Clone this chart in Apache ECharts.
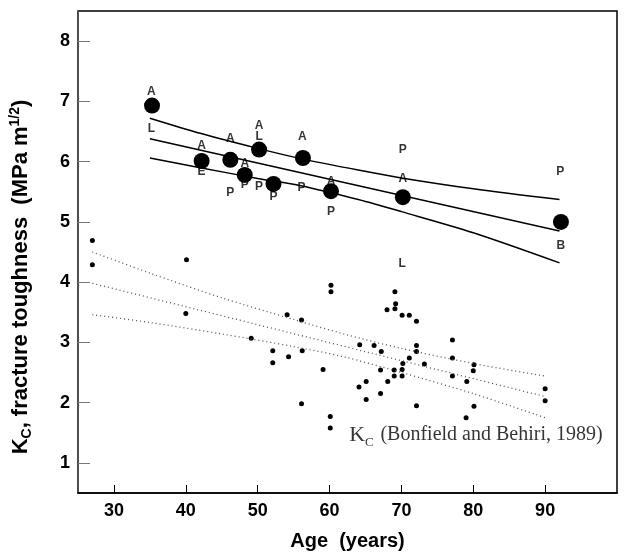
<!DOCTYPE html>
<html><head><meta charset="utf-8">
<script src="https://cdn.jsdelivr.net/npm/echarts@6/dist/echarts.min.js"></script>
<style>html,body{margin:0;padding:0;background:#fff}#c{width:625px;height:556px}</style>
</head><body><div id="c"></div>
<script>
// Big filled circles (mean values)
const bigAges = [35.3, 42.2, 46.2, 48.2, 50.2, 52.2, 56.3, 60.2, 70.2, 92.2];
const bigKc   = [6.93, 6.01, 6.03, 5.78, 6.20, 5.63, 6.06, 5.51, 5.41, 5.00];
// Letter markers
const letterAges = [35.2, 35.2, 42.2, 42.2, 46.2, 46.2, 48.2, 48.2, 50.2, 50.2, 50.2, 52.2, 56.1, 56.2, 60.2, 60.2, 70.2, 70.2, 70.1, 92.1, 92.2];
const letterKc   = [7.16, 6.54, 6.27, 5.83, 6.38, 5.48, 5.97, 5.61, 6.60, 6.41, 5.59, 5.42, 5.56, 6.41, 5.67, 5.17, 6.20, 5.71, 4.31, 5.83, 4.61];
const letterText = ['A','L','A','E','A','P','A','P','A','L','P','P','P','A','A','P','P','A','L','P','B'];
// Regression line (solid) and its confidence band
const solidAges  = [35, 92];
const solidMid   = [6.38, 4.85];
const bandAges   = [35, 42, 50, 56, 64, 70, 80, 92];
const bandUpper  = [6.72, 6.47, 6.22, 6.05, 5.86, 5.73, 5.55, 5.37];
const bandLower  = [6.06, 5.90, 5.72, 5.60, 5.37, 5.17, 4.82, 4.32];
// Bonfield and Behiri (1989) small dots
const smallAges = [27.0, 27.0, 40.1, 40.0, 49.1, 52.1, 52.1, 54.1, 54.3, 56.1, 56.2, 56.1, 59.1, 60.2, 60.2, 60.1, 60.1,
  64.2, 64.1, 65.1, 65.1, 66.2, 67.2, 67.1, 67.1, 68.0, 68.1, 69.1, 69.2, 69.1, 69.0, 69.0, 70.1, 70.1, 70.1, 70.2,
  71.1, 71.1, 72.1, 72.1, 72.1, 72.1, 73.2, 77.1, 77.1, 77.1, 79.1, 79.0, 80.1, 80.0, 80.1, 90.0, 90.0];
const smallKc   = [4.69, 4.29, 4.37, 3.48, 3.07, 2.86, 2.66, 3.46, 2.76, 3.37, 2.86, 1.98, 2.55, 3.95, 3.84, 1.77, 1.58,
  2.96, 2.26, 2.35, 2.05, 2.95, 2.85, 2.54, 2.15, 3.54, 2.35, 3.84, 3.64, 3.56, 2.54, 2.44, 3.45, 2.55, 2.44, 2.65,
  3.45, 2.74, 3.35, 2.95, 2.85, 1.95, 2.64, 3.04, 2.74, 2.44, 2.35, 1.75, 2.63, 2.53, 1.94, 2.23, 2.03];
// Dotted regression and band
const dotMidAges = [27, 90];
const dotMid     = [3.98, 2.10];
const dotAges    = [27, 35, 45, 55, 62, 70, 80, 90];
const dotUpper   = [4.50, 4.15, 3.74, 3.38, 3.14, 2.90, 2.65, 2.44];
const dotLower   = [3.46, 3.33, 3.14, 2.93, 2.76, 2.50, 2.15, 1.75];
// Axis ticks
const xTicks = [30, 40, 50, 60, 70, 80, 90];
const yTicks = [1, 2, 3, 4, 5, 6, 7, 8];
const noteAge = 62.6, noteKc = 1.46;

const zip = (a, b) => a.map((v, i) => [v, b[i]]);
const chart = echarts.init(document.getElementById('c'));
const solidStyle = {color: '#000', width: 1.5};
const dotStyle = {color: '#555', width: 1.3, type: [1, 3]};
chart.setOption({
  animation: false,
  grid: {left: 76, right: 8, top: 11, bottom: 56, show: true, borderColor: '#000', borderWidth: 1.5, backgroundColor: 'transparent'},
  xAxis: {
    type: 'value', min: 25, max: 100,
    name: 'Age  (years)', nameLocation: 'middle', nameGap: 38,
    nameTextStyle: {fontFamily: 'Liberation Sans', fontWeight: 'bold', fontSize: 20, color: '#000'},
    axisLine: {show: true, lineStyle: {color: '#000', width: 1.5}},
    axisTick: {show: true, inside: true, length: 8, customValues: xTicks, lineStyle: {color: '#000'}},
    axisLabel: {customValues: xTicks, fontFamily: 'Liberation Sans', fontWeight: 'bold', fontSize: 18, color: '#000', margin: 9},
    splitLine: {show: false}
  },
  yAxis: {
    type: 'value', min: 0.5, max: 8.5,
    name: 'K{sub|C}, fracture toughness  (MPa m{sup|1/2})', nameLocation: 'middle', nameGap: 44, nameRotate: 90,
    nameTextStyle: {fontFamily: 'Liberation Sans', fontWeight: 'bold', fontSize: 22, color: '#000', padding: [0, 50, 0, 0],
      rich: {sub: {fontSize: 14, fontWeight: 'bold', fontFamily: 'Liberation Sans', padding: [12, 0, 0, 0]},
             sup: {fontSize: 14, fontWeight: 'bold', fontFamily: 'Liberation Sans', padding: [0, 0, 12, 0]}}},
    axisLine: {show: true, lineStyle: {color: '#555', width: 1.5}},
    axisTick: {show: true, inside: true, length: 12, customValues: yTicks, lineStyle: {color: '#777'}},
    axisLabel: {customValues: yTicks, fontFamily: 'Liberation Sans', fontWeight: 'bold', fontSize: 18, color: '#000', margin: 8},
    splitLine: {show: false}
  },
  series: [
    {type: 'line', data: zip(solidAges, solidMid), symbol: 'none', lineStyle: solidStyle},
    {type: 'line', data: zip(bandAges, bandUpper), symbol: 'none', smooth: 0.3, lineStyle: solidStyle},
    {type: 'line', data: zip(bandAges, bandLower), symbol: 'none', smooth: 0.3, lineStyle: solidStyle},
    {type: 'line', data: zip(dotMidAges, dotMid), symbol: 'none', lineStyle: dotStyle},
    {type: 'line', data: zip(dotAges, dotUpper), symbol: 'none', smooth: 0.3, lineStyle: dotStyle},
    {type: 'line', data: zip(dotAges, dotLower), symbol: 'none', smooth: 0.3, lineStyle: dotStyle},
    {type: 'scatter', data: zip(smallAges, smallKc), symbol: 'circle', symbolSize: 5, itemStyle: {color: '#000', opacity: 1}},
    {type: 'scatter', data: zip(bigAges, bigKc), symbol: 'circle', symbolSize: 16, itemStyle: {color: '#000', opacity: 1}, z: 4},
    {type: 'scatter', data: letterAges.map((a, i) => ({value: [a, letterKc[i]], label: {formatter: letterText[i]}})),
      symbolSize: 0, z: 5,
      label: {show: true, position: 'inside', fontFamily: 'Liberation Sans', fontWeight: 'bold', fontSize: 12, color: '#000'}},
    {type: 'scatter', data: [[noteAge, noteKc]], symbolSize: 0,
      label: {show: true, position: 'right', offset: [-4, 0], formatter: '{k|K}{c|C}  {t|(Bonfield and Behiri, 1989)}',
        rich: {k: {fontFamily: 'Liberation Serif', fontSize: 22, color: '#000'},
               c: {fontFamily: 'Liberation Serif', fontSize: 13, color: '#000', padding: [14, 0, 0, 0]},
               t: {fontFamily: 'Liberation Serif', fontSize: 20, color: '#000'}}}}
  ]
});
</script></body></html>
